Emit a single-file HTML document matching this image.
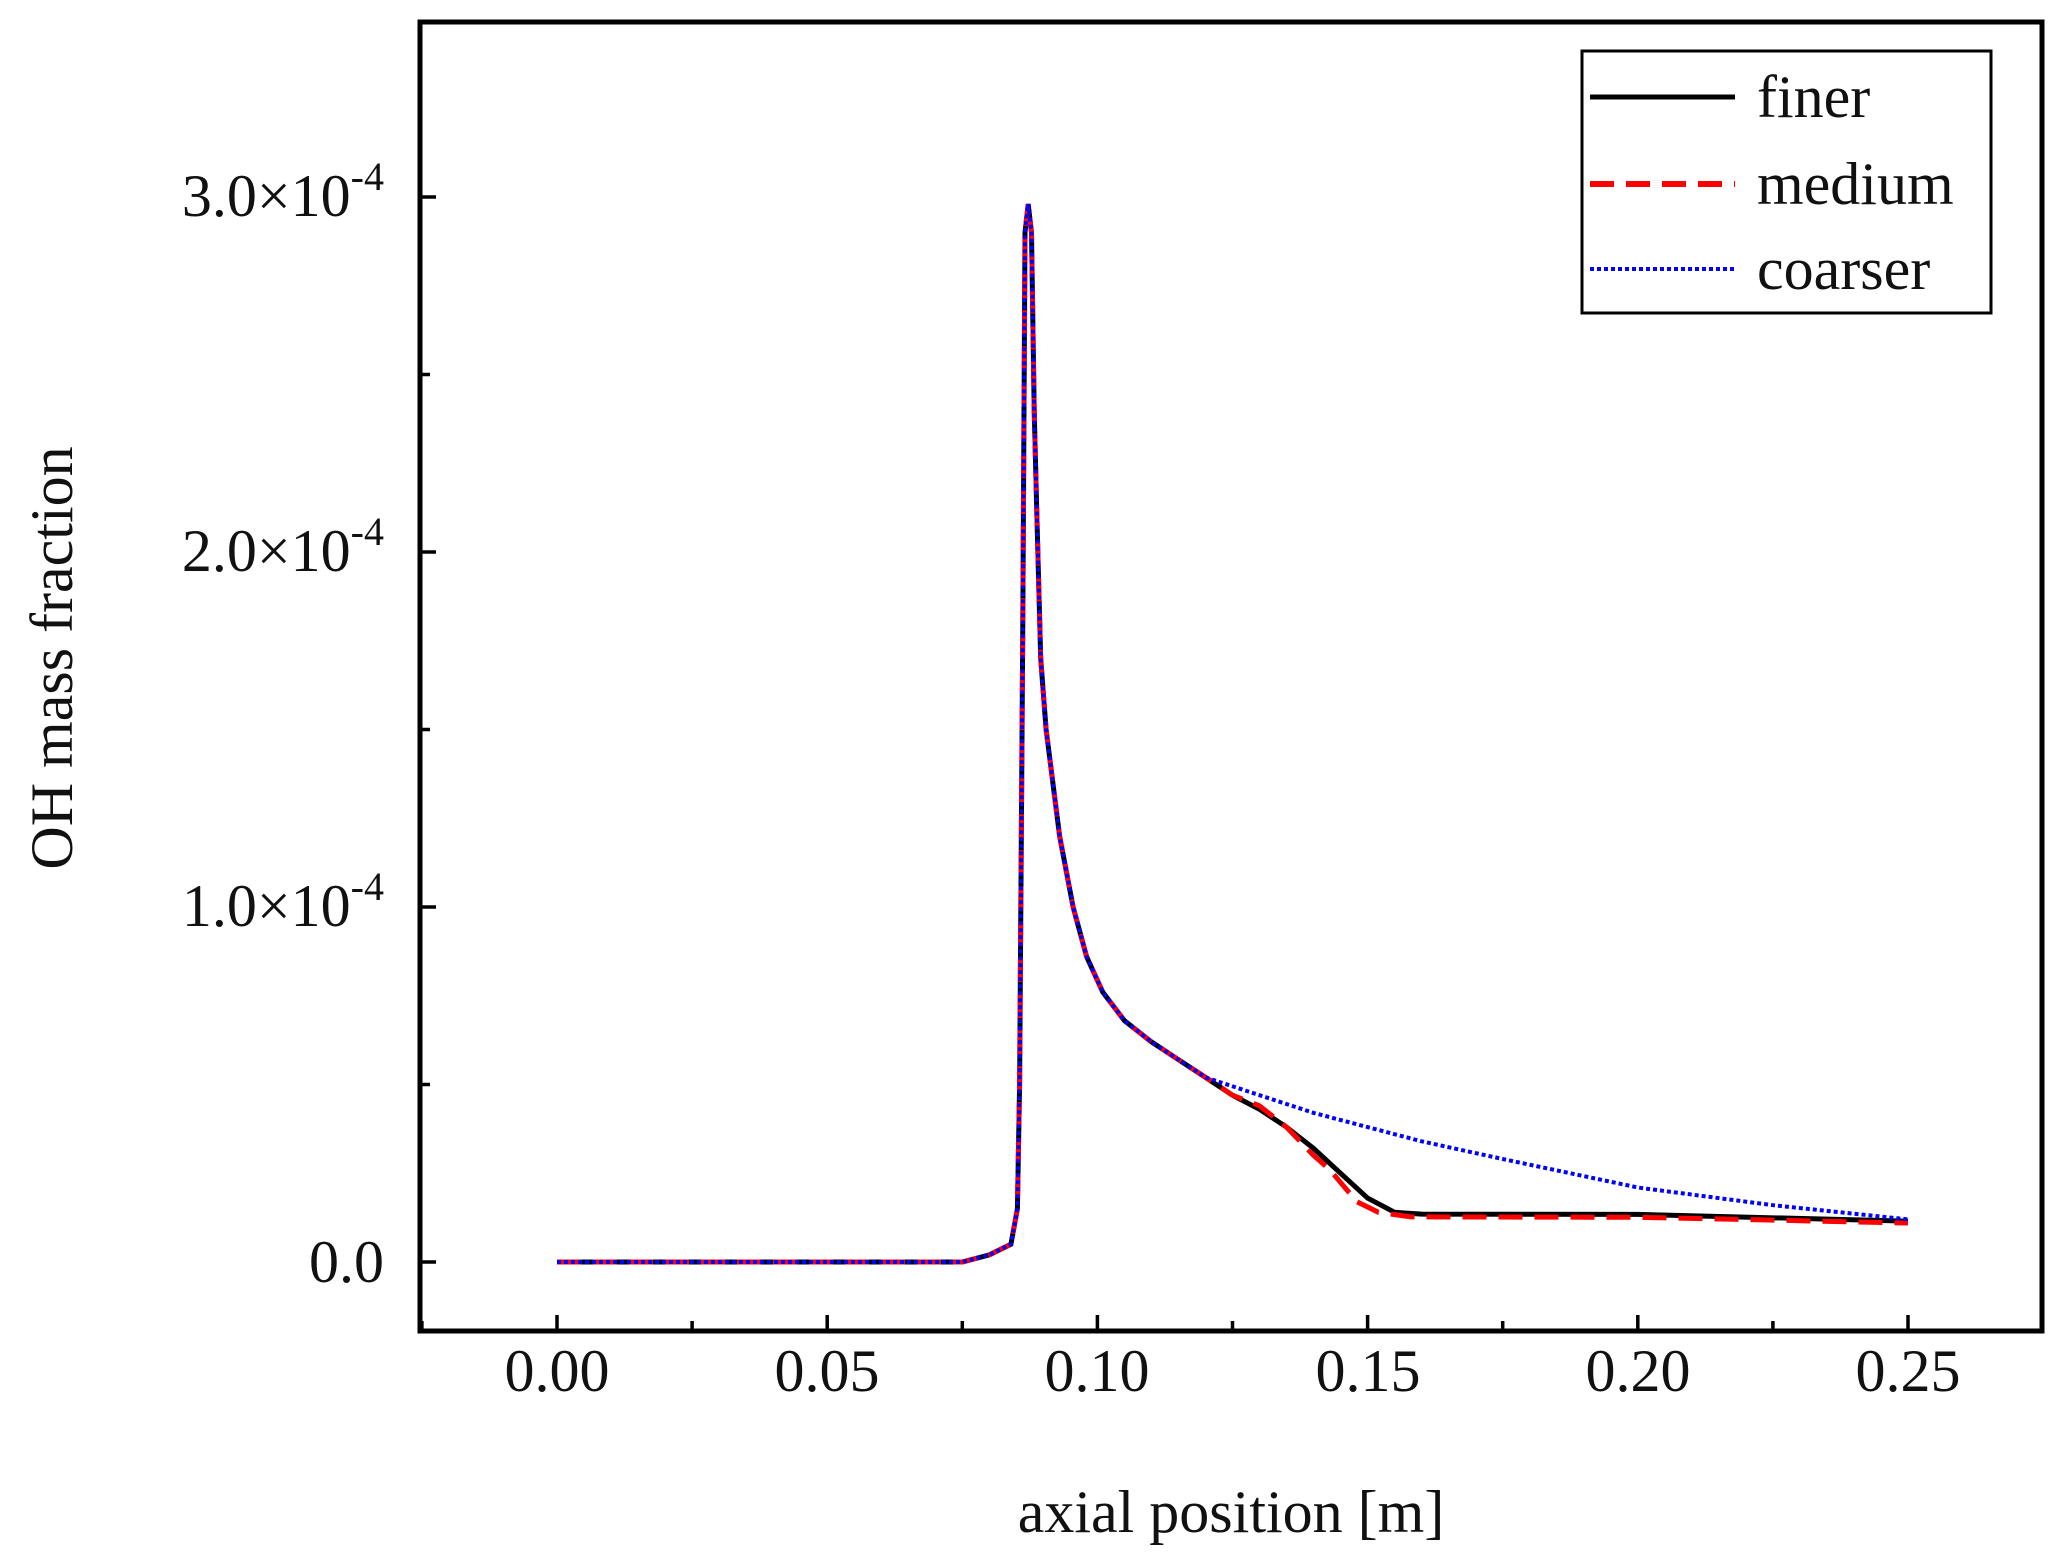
<!DOCTYPE html>
<html><head><meta charset="utf-8"><style>
html,body{margin:0;padding:0;background:#fff;}
svg{display:block;font-family:"Liberation Serif",serif;}
</style></head><body>
<svg id="s" width="2064" height="1562" viewBox="0 0 2064 1562" xmlns="http://www.w3.org/2000/svg">
<rect x="0" y="0" width="2064" height="1562" fill="#fff"/>
<g id="plot"></g>
<rect x="420" y="22" width="1622" height="1309" fill="none" stroke="#000" stroke-width="5"/>
<g id="ticks" stroke="#000" stroke-width="3.5"></g>
<g font-size="60" fill="#111" text-anchor="middle">
<text x="557" y="1391">0.00</text><text x="827" y="1391">0.05</text><text x="1097" y="1391">0.10</text>
<text x="1368" y="1391">0.15</text><text x="1638" y="1391">0.20</text><text x="1908" y="1391">0.25</text>
</g>
<g font-size="60" fill="#111" text-anchor="end">
<text x="384" y="1282">0.0</text>
<text x="384" y="926">1.0×10<tspan font-size="40" dy="-26">-4</tspan></text>
<text x="384" y="571">2.0×10<tspan font-size="40" dy="-26">-4</tspan></text>
<text x="384" y="216">3.0×10<tspan font-size="40" dy="-26">-4</tspan></text>
</g>
<text x="1231" y="1532" font-size="60" text-anchor="middle" fill="#111">axial position [m]</text>
<text transform="translate(72,658) rotate(-90)" font-size="60" text-anchor="middle" fill="#111">OH mass fraction</text>
<rect x="1582" y="51" width="409" height="262" fill="#fff" stroke="#000" stroke-width="3"/>
<line x1="1590" y1="97" x2="1735" y2="97" stroke="#000" stroke-width="5"/>
<line x1="1590" y1="184" x2="1735" y2="184" stroke="#f00" stroke-width="6" stroke-dasharray="24,12"/>
<line x1="1590" y1="269" x2="1735" y2="269" stroke="#00f" stroke-width="4" stroke-dasharray="4,3"/>
<g font-size="60" fill="#111"><text x="1757" y="117">finer</text><text x="1757" y="204">medium</text><text x="1757" y="289">coarser</text></g>
</svg>
<script>
var X=function(x){return 557+x*5404;},Y=function(v){return 1262-v*355;};
var common=[[0,0],[0.075,0],[0.08,0.02],[0.084,0.05],[0.0852,0.15],[0.0856,0.5],[0.0862,1.8],[0.0866,2.9],[0.0872,2.98],[0.0878,2.9],[0.0883,2.4],[0.0888,2.1],[0.0895,1.7],[0.0905,1.5],[0.093,1.2],[0.0955,1.0],[0.098,0.86],[0.101,0.76],[0.105,0.68],[0.11,0.62],[0.115,0.57],[0.12,0.52]];
var finer=common.concat([[0.125,0.47],[0.13,0.43],[0.135,0.38],[0.14,0.32],[0.145,0.25],[0.15,0.18],[0.155,0.14],[0.16,0.135],[0.2,0.134],[0.25,0.115]]);
var medium=common.concat([[0.125,0.47],[0.13,0.44],[0.135,0.38],[0.14,0.3],[0.143,0.26],[0.148,0.17],[0.152,0.14],[0.158,0.127],[0.2,0.126],[0.25,0.11]]);
var coarse=common.concat([[0.13,0.47],[0.14,0.42],[0.15,0.38],[0.16,0.34],[0.175,0.29],[0.2,0.21],[0.225,0.16],[0.25,0.12]]);
function path(d){return d.map(function(p,i){return (i?'L':'M')+X(p[0]).toFixed(1)+','+Y(p[1]).toFixed(1);}).join('');}
var g=document.getElementById('plot'),ns='http://www.w3.org/2000/svg';
[[finer,'#000',5,''],[medium,'#f00',5,'24,12'],[coarse,'#00f',4,'4,3']].forEach(function(a){
var p=document.createElementNS(ns,'path');p.setAttribute('d',path(a[0]));p.setAttribute('fill','none');
p.setAttribute('stroke',a[1]);p.setAttribute('stroke-width',a[2]);if(a[3])p.setAttribute('stroke-dasharray',a[3]);g.appendChild(p);});
var t=document.getElementById('ticks'),s='';
for(var i=-1;i<=11;i++){var x=557+i*135.1;if(x<420||x>2042)continue;var L=i%2==0?16:10;s+='M'+x+',1331V'+(1331-L);}
for(var j=0;j<=6;j++){var y=1262-j*177.5;var L=j%2==0?16:10;s+='M420,'+y+'H'+(420+L);}
var tp=document.createElementNS(ns,'path');tp.setAttribute('d',s);t.appendChild(tp);
</script>
</body></html>
